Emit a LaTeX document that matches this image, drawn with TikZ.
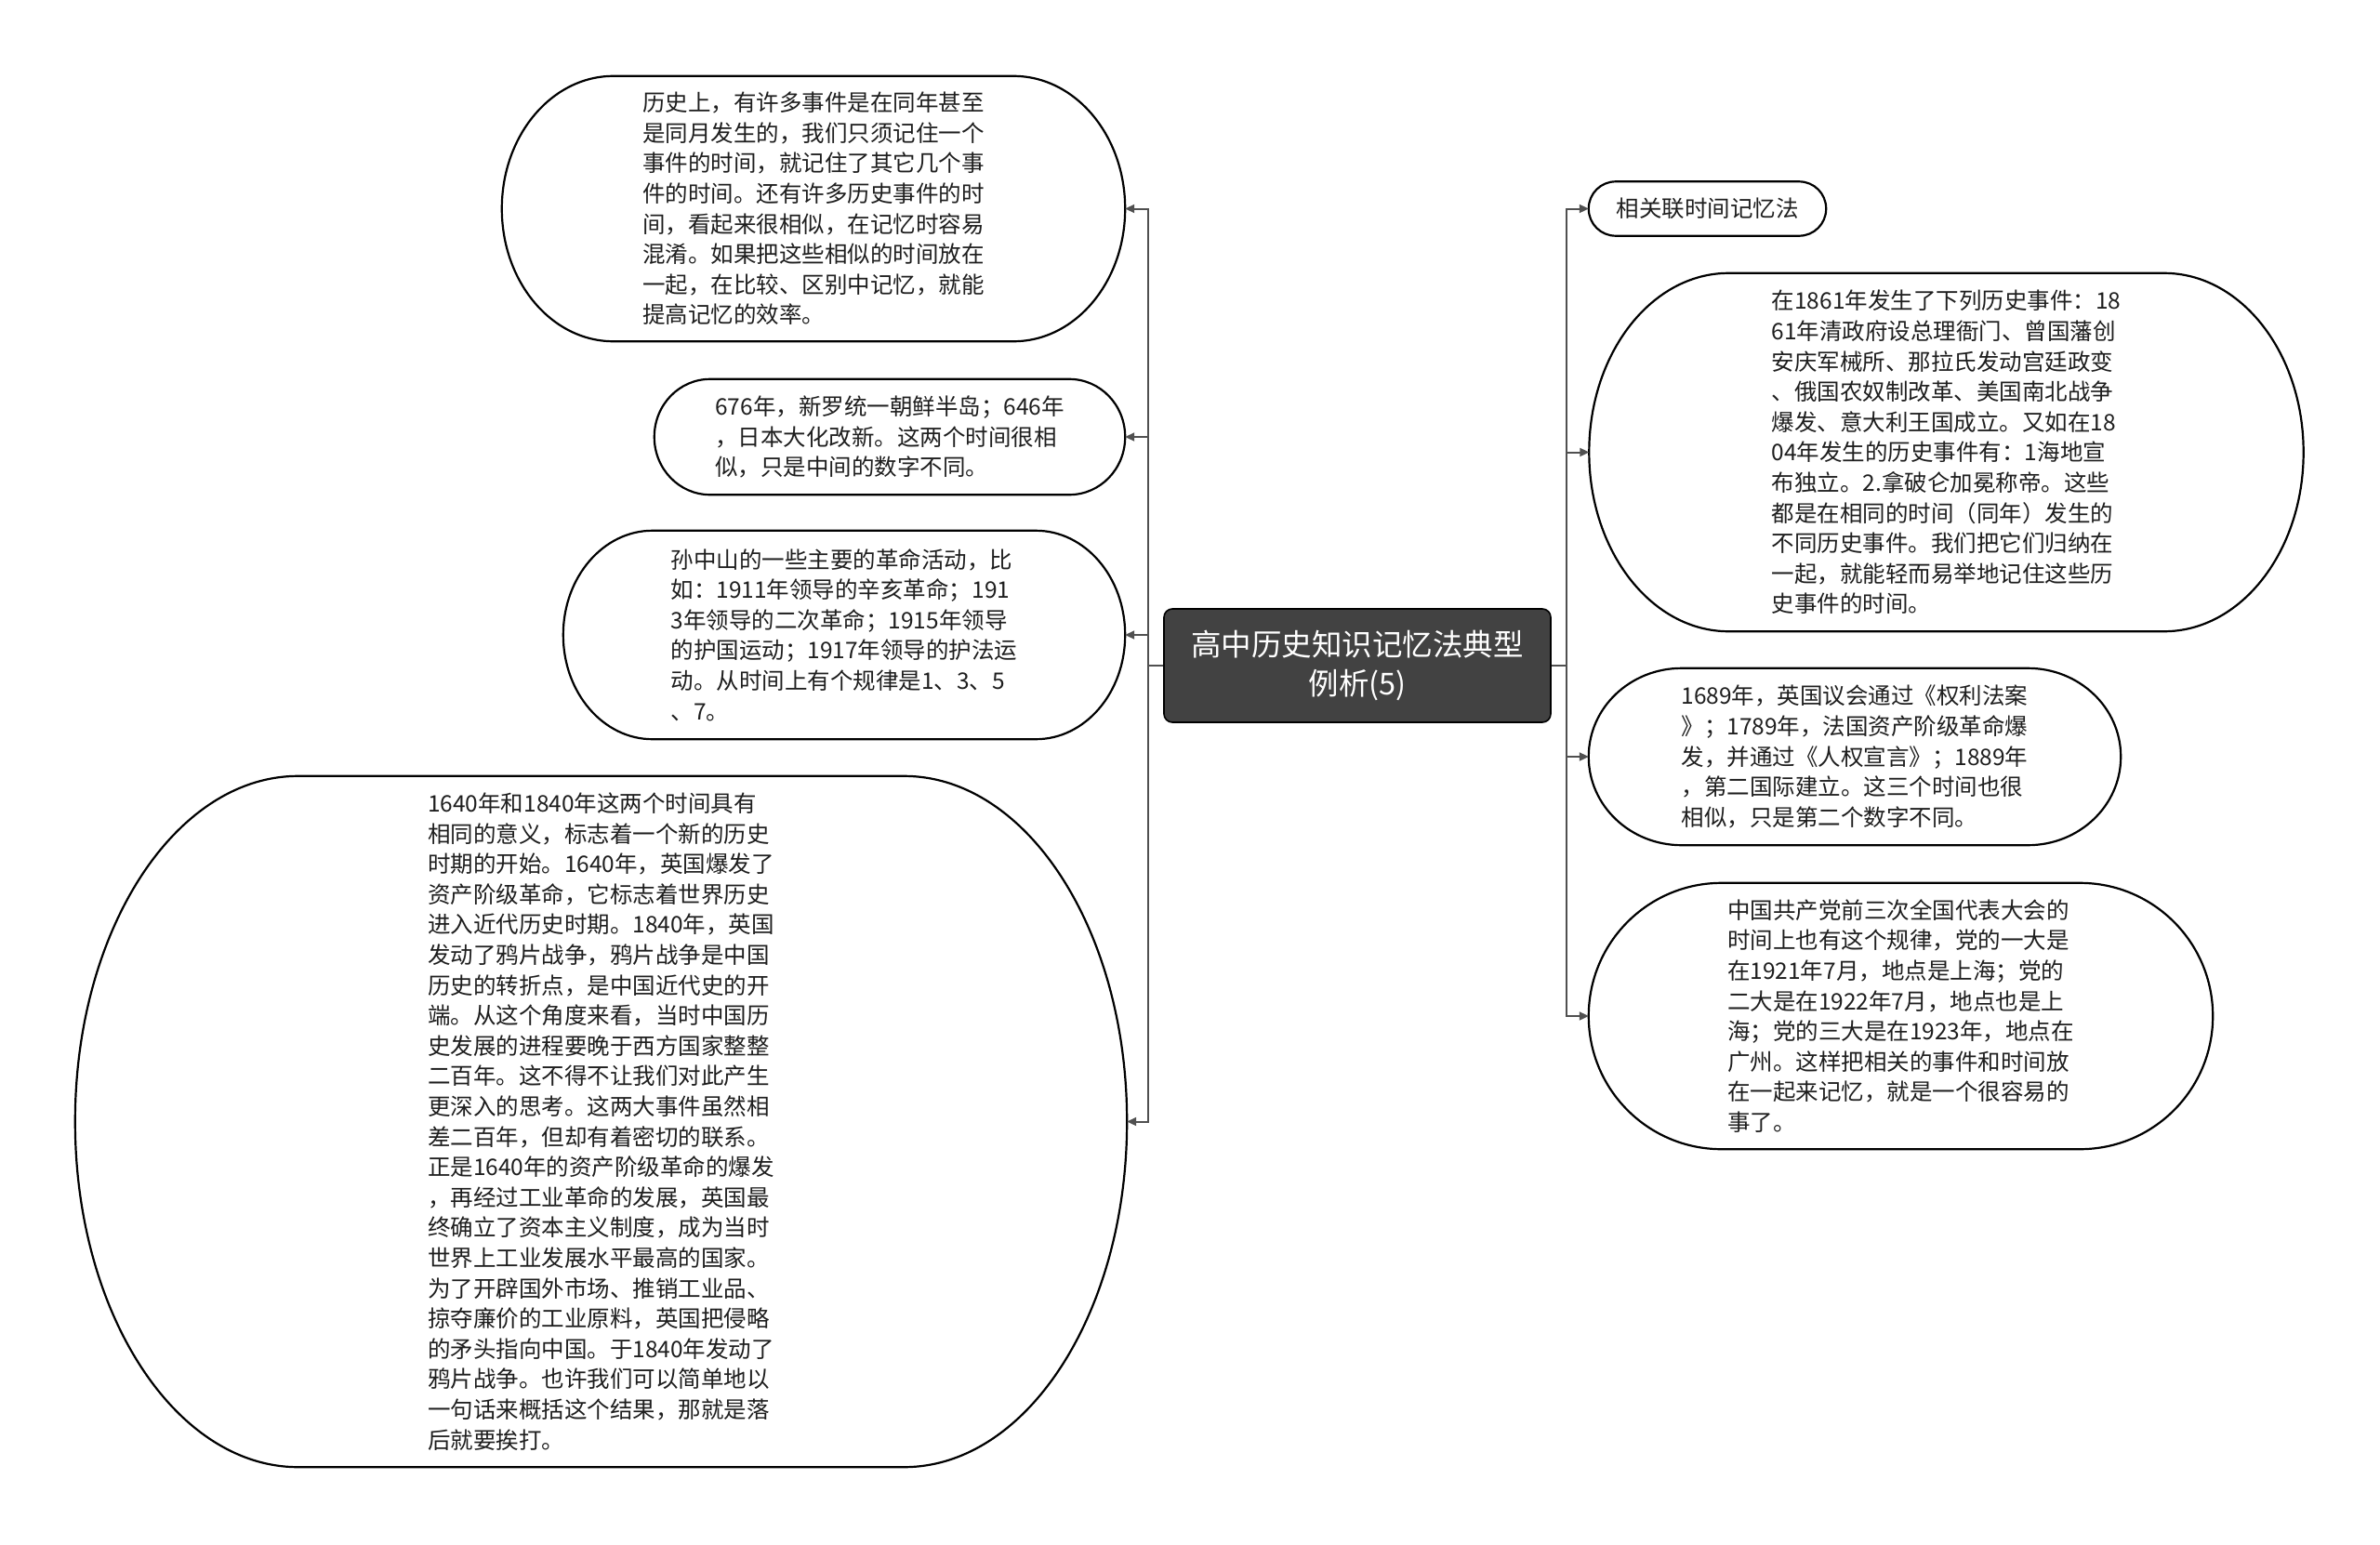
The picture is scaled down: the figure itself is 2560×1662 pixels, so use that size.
\documentclass[tikz,border=0pt]{standalone}
\usepackage{fontspec}
\setmainfont{Noto Sans CJK SC}
\usetikzlibrary{arrows.meta}
\definecolor{linec}{RGB}{80,80,80}
\definecolor{rootc}{RGB}{66,66,66}
\definecolor{txtc}{RGB}{30,30,30}
\tikzset{
  bub/.style={inner sep=0pt, align=left, text=txtc,
    font=\fontsize{24.5pt}{32.6pt}\selectfont},
  bubbleline/.style={draw=black, line width=2.2pt},
  conn/.style={draw=linec, line width=2pt, -{Triangle[length=10pt,width=9pt]}},
  rootbox/.style={draw=black, line width=1.6pt, fill=rootc, rounded corners=9pt,
    text=white, align=center, inner sep=0pt,
    minimum width=416pt, minimum height=122pt,
    font=\fontsize{32.5pt}{42pt}\selectfont}
}
\newcommand{\bubbleoutline}[3]{%
  \draw[bubbleline] ([xshift=#2]#1.north west) -- ([xshift=-#2]#1.north east)
    arc[start angle=90,end angle=0,x radius=#2,y radius=#3]
    -- ([yshift=#3]#1.south east)
    arc[start angle=0,end angle=-90,x radius=#2,y radius=#3]
    -- ([xshift=#2]#1.south west)
    arc[start angle=270,end angle=180,x radius=#2,y radius=#3]
    -- ([yshift=-#3]#1.north west)
    arc[start angle=180,end angle=90,x radius=#2,y radius=#3] -- cycle;}
\begin{document}
\begin{tikzpicture}[x=1pt,y=-1pt]
\fill[white] (0,0) rectangle (2560,1662);
\useasboundingbox (0,0) rectangle (2560,1662);

\node[rootbox] (root) at (1460,716) {高中历史知识记忆法典型\\例析(5)};

% left branch
\node[bub, minimum width=670pt, minimum height=285pt] (n1) at (875,224.5) {历史上，有许多事件是在同年甚至\\是同月发生的，我们只须记住一个\\事件的时间，就记住了其它几个事\\件的时间。还有许多历史事件的时\\间，看起来很相似，在记忆时容易\\混淆。如果把这些相似的时间放在\\一起，在比较、区别中记忆，就能\\提高记忆的效率。};
\bubbleoutline{n1}{120pt}{142.5pt}

\node[bub, minimum width=506pt, minimum height=124pt] (n2) at (957,470) {676年，新罗统一朝鲜半岛；646年\\，日本大化改新。这两个时间很相\\似，只是中间的数字不同。};
\bubbleoutline{n2}{60pt}{62pt}

\node[bub, minimum width=604pt, minimum height=224pt] (n3) at (908,683) {孙中山的一些主要的革命活动，比\\如：1911年领导的辛亥革命；191\\3年领导的二次革命；1915年领导\\的护国运动；1917年领导的护法运\\动。从时间上有个规律是1、3、5\\、7。};
\bubbleoutline{n3}{96pt}{112pt}

\node[bub, minimum width=1131pt, minimum height=743pt] (n4) at (646.5,1206.5) {1640年和1840年这两个时间具有\\相同的意义，标志着一个新的历史\\时期的开始。1640年，英国爆发了\\资产阶级革命，它标志着世界历史\\进入近代历史时期。1840年，英国\\发动了鸦片战争，鸦片战争是中国\\历史的转折点，是中国近代史的开\\端。从这个角度来看，当时中国历\\史发展的进程要晚于西方国家整整\\二百年。这不得不让我们对此产生\\更深入的思考。这两大事件虽然相\\差二百年，但却有着密切的联系。\\正是1640年的资产阶级革命的爆发\\，再经过工业革命的发展，英国最\\终确立了资本主义制度，成为当时\\世界上工业发展水平最高的国家。\\为了开辟国外市场、推销工业品、\\掠夺廉价的工业原料，英国把侵略\\的矛头指向中国。于1840年发动了\\鸦片战争。也许我们可以简单地以\\一句话来概括这个结果，那就是落\\后就要挨打。};
\bubbleoutline{n4}{240pt}{371.5pt}

% right branch
\node[bub, minimum width=255pt, minimum height=58pt] (r1) at (1836.5,224.5) {相关联时间记忆法};
\bubbleoutline{r1}{29pt}{29pt}

\node[bub, minimum width=768pt, minimum height=385pt] (r2) at (2093.5,486.5) {在1861年发生了下列历史事件：18\\61年清政府设总理衙门、曾国藩创\\安庆军械所、那拉氏发动宫廷政变\\、俄国农奴制改革、美国南北战争\\爆发、意大利王国成立。又如在18\\04年发生的历史事件有：1海地宣\\布独立。2.拿破仑加冕称帝。这些\\都是在相同的时间（同年）发生的\\不同历史事件。我们把它们归纳在\\一起，就能轻而易举地记住这些历\\史事件的时间。};
\bubbleoutline{r2}{150pt}{192.5pt}

\node[bub, minimum width=572pt, minimum height=190pt] (r3) at (1995,814) {1689年，英国议会通过《权利法案\\》；1789年，法国资产阶级革命爆\\发，并通过《人权宣言》；1889年\\，第二国际建立。这三个时间也很\\相似，只是第二个数字不同。};
\bubbleoutline{r3}{100pt}{95pt}

\node[bub, minimum width=671pt, minimum height=286pt] (r4) at (2044.5,1093) {中国共产党前三次全国代表大会的\\时间上也有这个规律，党的一大是\\在1921年7月，地点是上海；党的\\二大是在1922年7月，地点也是上\\海；党的三大是在1923年，地点在\\广州。这样把相关的事件和时间放\\在一起来记忆，就是一个很容易的\\事了。};
\bubbleoutline{r4}{143pt}{143pt}

% connectors
\draw[conn] (root.west) -- ++(-16,0) |- (n1.east);
\draw[conn] (root.west) -- ++(-16,0) |- (n2.east);
\draw[conn] (root.west) -- ++(-16,0) |- (n3.east);
\draw[conn] (root.west) -- ++(-16,0) |- (n4.east);
\draw[conn] (root.east) -- ++(16,0) |- (r1.west);
\draw[conn] (root.east) -- ++(16,0) |- (r2.west);
\draw[conn] (root.east) -- ++(16,0) |- (r3.west);
\draw[conn] (root.east) -- ++(16,0) |- (r4.west);
\end{tikzpicture}
\end{document}
